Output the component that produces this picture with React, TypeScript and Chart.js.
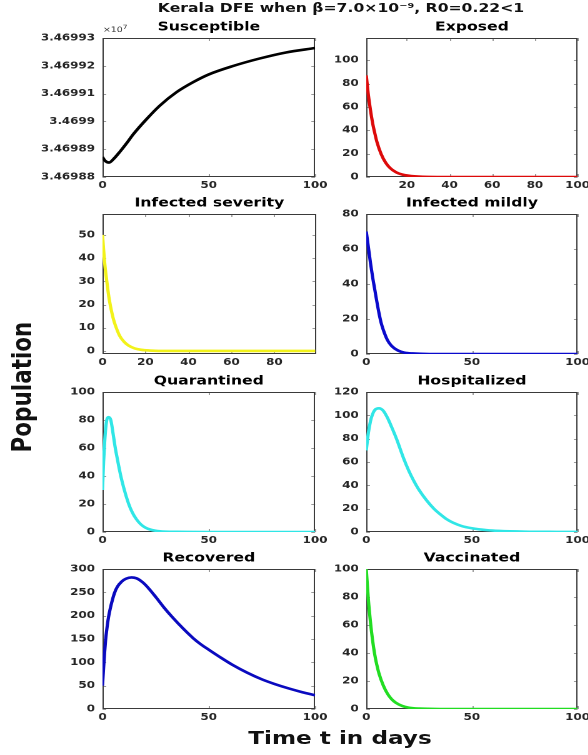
import React, { useEffect, useRef } from "react";
import { Chart, registerables } from "chart.js";

Chart.register(...registerables);

// ---------------- data ----------------
const mainTitle = "Kerala DFE when β=7.0×10⁻⁹, R0=0.22<1";
const xAxisTitle = "Time t in days";
const yAxisTitle = "Population";

const susceptibleT = [0, 1.25, 3.1, 5.1, 8.3, 11.4, 14.5, 20.7, 27, 34.8, 42.6, 50, 61.3, 73.8, 86.3, 100];
const susceptibleV = [
  34698872, 34698858, 34698852, 34698864, 34698892, 34698922, 34698954, 34699008, 34699057,
  34699105, 34699141, 34699169, 34699199, 34699226, 34699248, 34699264,
];
const susceptibleYTicks = [34698800, 34698900, 34699000, 34699100, 34699200, 34699300];

const exposedT = [1, 2, 3, 4, 5, 6, 8, 10, 12, 15, 18, 22, 30, 40, 60, 80, 100];
const exposedV = [87, 70, 57, 46, 37.5, 30, 19.5, 12.5, 8, 4, 2, 0.8, 0.1, 0, 0, 0, 0];

const severeT = [0, 1, 2, 3, 4, 5, 6, 8, 10, 12, 15, 18, 22, 30, 50, 99];
const severeV = [50, 38, 30, 23, 18, 14, 11, 6.5, 4, 2.4, 1.1, 0.5, 0.2, 0, 0, 0];

const mildT = [0, 1, 2, 3, 4, 5, 6, 7, 8, 10, 12, 15, 18, 22, 30, 50, 100];
const mildV = [70, 61, 52, 44, 37, 30, 23.5, 18, 14, 8, 4.6, 2, 0.8, 0.3, 0, 0, 0];

const quarantinedT = [0, 0.5, 1, 1.5, 2, 2.8, 3.9, 5, 5.9, 7, 8.6, 10, 12.2, 14, 16, 18, 20, 23, 27, 35, 50, 100];
const quarantinedV = [30, 50, 64, 74, 80, 82, 80, 70, 61, 52, 40, 31.5, 20.5, 14, 9, 5.5, 3.3, 1.5, 0.5, 0.1, 0, 0];

const hospitalT = [0, 1, 2, 3, 4, 6, 8, 10, 12, 14.5, 17.7, 20, 22.3, 25, 28.6, 32, 34.8, 38, 41, 45, 50, 57, 63, 75, 90, 100];
const hospitalV = [70, 85, 95, 101, 104.5, 106, 104, 98, 90, 79, 63, 53, 44.5, 36, 27, 20, 15.5, 11, 8, 5.2, 3.2, 1.6, 0.9, 0.3, 0.1, 0.05];

const recoveredT = [0, 0.5, 1, 1.4, 2, 2.8, 4, 5.6, 7, 9, 11, 13.7, 16, 19, 22, 25.4, 29, 33, 38, 42.6, 46, 50, 55, 61, 68, 75, 81, 88, 94, 100];
const recoveredV = [50, 88, 122, 145, 170, 196, 222, 248, 262, 273, 279, 282, 280, 271, 257, 238, 217, 196, 172, 152, 139.5, 127, 112, 95, 78, 63.5, 53.5, 43.5, 36, 29.5];

const vaccinatedT = [0, 1, 2, 3, 4, 5, 6, 8, 10, 12, 14, 17, 20, 25, 35, 100];
const vaccinatedV = [100, 78, 62, 49, 39, 31.5, 25.5, 17, 11, 7, 4.5, 2.2, 1, 0.3, 0, 0];

const ticks0to100by50 = [0, 50, 100];
const ticks20to100 = [20, 40, 60, 80, 100];
const ticks0to80by20 = [0, 20, 40, 60, 80];
const ticks0to50by10 = [0, 10, 20, 30, 40, 50];
const ticks0to100by20 = [0, 20, 40, 60, 80, 100];
const ticks0to120by20 = [0, 20, 40, 60, 80, 100, 120];
const ticks0to300by50 = [0, 50, 100, 150, 200, 250, 300];

// ---------------- layout ----------------
const S = 1.25; // horizontal stretch of the whole figure
const COLS = [
  [81.6, 252.8],
  [292.8, 463.2],
];
const ROWS = [
  [38, 176.5],
  [214, 353.5],
  [392, 532],
  [569, 709],
];
const Y_AXIS_W = 64;
const TITLE_H = 24;
const X_AXIS_H = 20;
const RIGHT_PAD = 12;
const FONT = "DejaVu Sans";

type Panel = {
  title: string;
  t: number[];
  v: number[];
  color: string;
  xMin: number;
  xMax: number;
  xTicks: number[];
  yMin: number;
  yMax: number;
  yTicks: number[];
  yFmt?: (v: number) => string;
  col: number;
  row: number;
};

const fmtE7 = (v: number) => String(parseFloat((v / 1e7).toFixed(5)));

const panels: Panel[] = [
  { title: "Susceptible", t: susceptibleT, v: susceptibleV, color: "#000000", xMin: 0, xMax: 100, xTicks: ticks0to100by50, yMin: 34698800, yMax: 34699300, yTicks: susceptibleYTicks, yFmt: fmtE7, col: 0, row: 0 },
  { title: "Exposed", t: exposedT, v: exposedV, color: "#dd0a0a", xMin: 1, xMax: 100, xTicks: ticks20to100, yMin: 0, yMax: 119, yTicks: ticks0to100by20, col: 1, row: 0 },
  { title: "Infected severity", t: severeT, v: severeV, color: "#f2f21a", xMin: 0, xMax: 99.5, xTicks: ticks0to80by20, yMin: -1.3, yMax: 59, yTicks: ticks0to50by10, col: 0, row: 1 },
  { title: "Infected mildly", t: mildT, v: mildV, color: "#0a0acc", xMin: 0, xMax: 100, xTicks: ticks0to100by50, yMin: 0, yMax: 80, yTicks: ticks0to80by20, col: 1, row: 1 },
  { title: "Quarantined", t: quarantinedT, v: quarantinedV, color: "#30e6e6", xMin: 0, xMax: 100, xTicks: ticks0to100by50, yMin: 0, yMax: 100, yTicks: ticks0to100by20, col: 0, row: 2 },
  { title: "Hospitalized", t: hospitalT, v: hospitalV, color: "#30e6e6", xMin: 0, xMax: 100, xTicks: ticks0to100by50, yMin: 0, yMax: 120, yTicks: ticks0to120by20, col: 1, row: 2 },
  { title: "Recovered", t: recoveredT, v: recoveredV, color: "#0a0abf", xMin: 0, xMax: 100, xTicks: ticks0to100by50, yMin: 0, yMax: 300, yTicks: ticks0to300by50, col: 0, row: 3 },
  { title: "Vaccinated", t: vaccinatedT, v: vaccinatedV, color: "#22dd22", xMin: 0, xMax: 100, xTicks: ticks0to100by50, yMin: 0, yMax: 100, yTicks: ticks0to100by20, col: 1, row: 3 },
];

const boxPlugin = {
  id: "matlabBox",
  beforeDatasetsDraw(chart: any) {
    const { ctx, chartArea } = chart;
    const { left, top, right, bottom } = chartArea;
    const xs = chart.scales.x;
    const ys = chart.scales.y;
    ctx.save();
    ctx.lineWidth = 1;
    ctx.strokeStyle = "#9a9a9a";
    const tl = 3;
    ctx.beginPath();
    xs.ticks.forEach((tk: any) => {
      const px = Math.round(xs.getPixelForValue(tk.value)) + 0.5;
      ctx.moveTo(px, bottom);
      ctx.lineTo(px, bottom - tl);
      ctx.moveTo(px, top);
      ctx.lineTo(px, top + tl);
    });
    ys.ticks.forEach((tk: any) => {
      const py = Math.round(ys.getPixelForValue(tk.value)) + 0.5;
      ctx.moveTo(left, py);
      ctx.lineTo(left + tl, py);
      ctx.moveTo(right, py);
      ctx.lineTo(right - tl, py);
    });
    ctx.stroke();
    ctx.strokeStyle = "#3a3a3a";
    ctx.strokeRect(Math.round(left) + 0.5, Math.round(top) + 0.5, Math.round(right - left) - 1, Math.round(bottom - top) - 1);
    ctx.restore();
  },
};

function geometry(p: Panel) {
  const [L, R] = COLS[p.col];
  const [T, B] = ROWS[p.row];
  const w = Math.round(R - L) + Y_AXIS_W + RIGHT_PAD;
  const h = Math.round(B - T) + TITLE_H + X_AXIS_H;
  return { left: L - Y_AXIS_W, top: T - TITLE_H, w, h };
}

function makeConfig(p: Panel): any {
  const tickFont = { family: FONT, size: 9.5, weight: "bold" as const };
  return {
    type: "line",
    data: {
      datasets: [
        {
          data: p.t.map((t, i) => ({ x: t, y: p.v[i] })),
          borderColor: p.color,
          backgroundColor: p.color,
          borderWidth: 2.6,
          pointRadius: 0,
          fill: false,
          cubicInterpolationMode: "monotone",
        },
      ],
    },
    options: {
      responsive: false,
      animation: false,
      devicePixelRatio: 2,
      layout: { padding: { left: 0, top: 0, bottom: 0, right: RIGHT_PAD } },
      plugins: {
        legend: { display: false },
        tooltip: { enabled: false },
        title: {
          display: true,
          text: p.title,
          fullSize: false,
          color: "#000",
          font: { family: FONT, size: 12.5, weight: "bold", lineHeight: 1.2 },
          padding: { top: 5.5, bottom: 3.5 },
        },
      },
      scales: {
        x: {
          type: "linear",
          min: p.xMin,
          max: p.xMax,
          grid: { display: false, drawTicks: false },
          border: { display: false },
          afterBuildTicks: (scale: any) => {
            scale.ticks = p.xTicks.map((v) => ({ value: v }));
          },
          afterFit: (scale: any) => {
            scale.height = X_AXIS_H;
          },
          ticks: {
            font: tickFont,
            color: "#262626",
            padding: 3,
            maxRotation: 0,
            autoSkip: false,
            callback: (v: number) => String(v),
          },
        },
        y: {
          type: "linear",
          min: p.yMin,
          max: p.yMax,
          grid: { display: false, drawTicks: false },
          border: { display: false },
          afterBuildTicks: (scale: any) => {
            scale.ticks = p.yTicks.map((v) => ({ value: v }));
          },
          afterFit: (scale: any) => {
            scale.width = Y_AXIS_W;
          },
          ticks: {
            font: tickFont,
            color: "#262626",
            padding: 6,
            autoSkip: false,
            callback: (v: number) => (p.yFmt ? p.yFmt(v) : String(v)),
          },
        },
      },
    },
    plugins: [boxPlugin],
  };
}

function App() {
  const refs = useRef<(HTMLCanvasElement | null)[]>([]);

  useEffect(() => {
    const charts: Chart[] = [];
    panels.forEach((p, i) => {
      const c = refs.current[i];
      if (c) charts.push(new Chart(c, makeConfig(p)));
    });
    return () => charts.forEach((ch) => ch.destroy());
  }, []);

  const W = 588;
  const H = 755;

  return (
    <div style={{ position: "absolute", left: 0, top: 0, width: W, height: H, overflow: "hidden", background: "#fff" }}>
      <div
        style={{
          position: "absolute",
          left: 0,
          top: 0,
          width: W / S,
          height: H,
          transform: `scaleX(${S})`,
          transformOrigin: "0 0",
          fontFamily: FONT,
        }}
      >
        <div
          style={{
            position: "absolute",
            left: 272.8 - 200,
            top: 0,
            width: 400,
            lineHeight: "16px",
            textAlign: "center",
            fontSize: 12.5,
            fontWeight: "bold",
            color: "#111",
            whiteSpace: "nowrap",
          }}
        >
          {mainTitle}
        </div>

        <div
          style={{
            position: "absolute",
            left: 82.4,
            top: 25,
            fontSize: 7.5,
            lineHeight: "10px",
            color: "#333",
            whiteSpace: "nowrap",
          }}
        >
          ×10
          <span style={{ fontSize: 6, position: "relative", top: -3 }}>7</span>
        </div>

        <div
          style={{
            position: "absolute",
            left: 17.6 - 100,
            top: 387 - 12,
            width: 200,
            height: 24,
            lineHeight: "24px",
            textAlign: "center",
            fontSize: 21.5,
            fontWeight: "bold",
            color: "#111",
            transform: "rotate(-90deg)",
            transformOrigin: "50% 50%",
            whiteSpace: "nowrap",
          }}
        >
          {yAxisTitle}
        </div>

        <div
          style={{
            position: "absolute",
            left: 272 - 150,
            top: 738 - 12,
            width: 300,
            height: 24,
            lineHeight: "24px",
            textAlign: "center",
            fontSize: 18.5,
            fontWeight: "bold",
            color: "#111",
            whiteSpace: "nowrap",
          }}
        >
          {xAxisTitle}
        </div>

        {panels.map((p, i) => {
          const g = geometry(p);
          return (
            <div key={p.title} style={{ position: "absolute", left: g.left, top: g.top, width: g.w, height: g.h }}>
              <canvas
                ref={(el) => {
                  refs.current[i] = el;
                }}
                width={g.w}
                height={g.h}
              />
            </div>
          );
        })}
      </div>
    </div>
  );
}

export default App;
